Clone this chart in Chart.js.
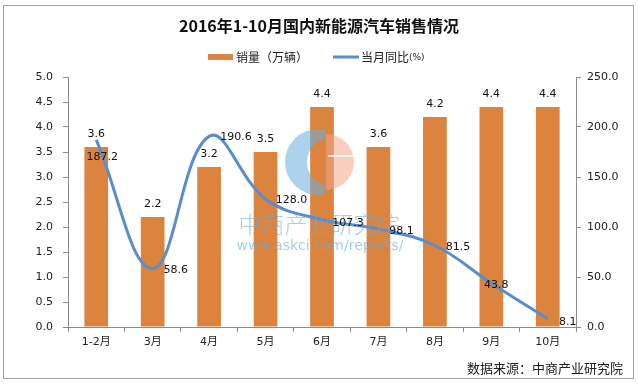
<!DOCTYPE html>
<html>
<head>
<meta charset="utf-8">
<script src="https://cdn.jsdelivr.net/npm/chart.js@4.4.1/dist/chart.umd.min.js"></script>
<style>
  html, body { margin: 0; padding: 0; background: #fff; }
  canvas { display: block; }
</style>
</head>
<body>
<canvas id="chart" width="638" height="384"></canvas>
<script>
// ── Datos ────────────────────────────────────────────────────────────────────
var categories  = ['1-2月', '3月', '4月', '5月', '6月', '7月', '8月', '9月', '10月'];
var salesValues = [3.6, 2.2, 3.2, 3.5, 4.4, 3.6, 4.2, 4.4, 4.4];           // 销量（万辆）
var yoyValues   = [187.2, 58.6, 190.6, 128.0, 107.3, 98.1, 81.5, 43.8, 8.1]; // 当月同比(%)
var leftTicks   = [0, 0.5, 1, 1.5, 2, 2.5, 3, 3.5, 4, 4.5, 5];
var rightTicks  = [0, 50, 100, 150, 200, 250];

var titleText  = '2016年1-10月国内新能源汽车销售情况';
var sourceText = '数据来源：中商产业研究院';

var barColor  = '#dc843e';
var lineColor = '#5b8dcb';
var axisColor = '#8c8c8c';
var numFont   = "'DejaVu Sans', 'Noto Sans CJK SC', sans-serif";
var cjkFont   = "'Noto Sans CJK SC', sans-serif";

// desplazamiento de etiquetas de la línea (relativo al punto)
var lineLabelDx = [6, 23, 27, 26, 26, 23, 23, 5, 20];
var lineLabelDy = [17, 2, 1, 1, 3, 2, 2, 2, 3];

// ── Plugin: fondo, leyenda, marca de agua, etiquetas, fuente ────────────────
var decoPlugin = {
    id: 'deco',
    beforeDraw: function (chart) {
        var ctx = chart.ctx;
        ctx.save();
        ctx.fillStyle = '#fff';
        ctx.fillRect(0, 0, chart.width, chart.height);
        ctx.restore();
    },
    afterDatasetsDraw: function (chart) {
        var ctx = chart.ctx;
        ctx.save();
        ctx.globalAlpha = 0.55;
        // logo: media luna azul
        ctx.save();
        ctx.beginPath();
        ctx.rect(270, 120, 55, 90);
        ctx.clip();
        ctx.fillStyle = '#6aaedc';
        ctx.beginPath();
        ctx.arc(318, 162, 33, 0, Math.PI * 2);
        ctx.arc(331, 162, 24, 0, Math.PI * 2, true);
        ctx.fill('evenodd');
        ctx.restore();
        // logo: semicírculo salmón
        ctx.fillStyle = '#f2a58a';
        ctx.beginPath();
        ctx.arc(326, 162, 28, -Math.PI / 2, Math.PI / 2);
        ctx.closePath();
        ctx.fill();
        ctx.globalAlpha = 0.8;
        ctx.fillStyle = '#fff';
        ctx.fillRect(328, 155, 27, 2);
        // texto
        ctx.globalAlpha = 1;
        ctx.textAlign = 'center';
        ctx.textBaseline = 'middle';
        ctx.fillStyle = 'rgba(110,170,215,0.6)';
        ctx.font = '300 23px ' + cjkFont;
        ctx.fillText('中商产业研究院', 319, 224);
        ctx.font = '14px ' + numFont;
        ctx.fillText('www.askci.com/reports/', 320, 246);
        ctx.restore();
    },
    afterDraw: function (chart) {
        var ctx = chart.ctx;
        ctx.save();

        // borde
        ctx.strokeStyle = '#a0a0a0';
        ctx.lineWidth = 1;
        ctx.strokeRect(3.5, 5.5, 630, 373);

        // leyenda
        ctx.fillStyle = barColor;
        ctx.fillRect(208, 54, 25, 6);
        ctx.strokeStyle = lineColor;
        ctx.lineWidth = 3;
        ctx.beginPath();
        ctx.moveTo(333, 57);
        ctx.lineTo(359, 57);
        ctx.stroke();
        ctx.fillStyle = '#222';
        ctx.textBaseline = 'middle';
        ctx.textAlign = 'left';
        ctx.font = '12px ' + cjkFont;
        ctx.fillText(chart.data.datasets[1].label, 236, 57);
        ctx.fillText('当月同比', 361, 57);
        var w = ctx.measureText('当月同比').width;
        ctx.font = '9px ' + numFont;
        ctx.fillText('(%)', 361 + w, 58);

        // etiquetas de barras
        ctx.font = '11px ' + numFont;
        ctx.fillStyle = '#111';
        ctx.textAlign = 'center';
        var barMeta = chart.getDatasetMeta(1);
        barMeta.data.forEach(function (bar, i) {
            ctx.fillText(salesValues[i].toFixed(1), bar.x, bar.y - 13);
        });

        // etiquetas de la línea
        var lineMeta = chart.getDatasetMeta(0);
        lineMeta.data.forEach(function (pt, i) {
            ctx.fillText(yoyValues[i].toFixed(1), pt.x + lineLabelDx[i], pt.y + lineLabelDy[i]);
        });

        // fuente
        ctx.textAlign = 'right';
        ctx.font = '13px ' + cjkFont;
        ctx.fillStyle = '#222';
        ctx.fillText(sourceText, 623, 368);
        ctx.restore();
    }
};

// ── Gráfica ──────────────────────────────────────────────────────────────────
var chart = new Chart(document.getElementById('chart'), {
    type: 'bar',
    data: {
        labels: categories,
        datasets: [{
            type: 'line',
            label: '当月同比(%)',
            data: yoyValues,
            yAxisID: 'y1',
            borderColor: lineColor,
            backgroundColor: lineColor,
            borderWidth: 3,
            pointRadius: 0,
            tension: 0.4,
            fill: false,
            order: 0
        }, {
            type: 'bar',
            label: '销量（万辆）',
            data: salesValues,
            yAxisID: 'y',
            backgroundColor: barColor,
            borderWidth: 0,
            barPercentage: 0.42,
            categoryPercentage: 1,
            order: 1
        }]
    },
    options: {
        responsive: false,
        animation: false,
        layout: { padding: 0 },
        plugins: {
            legend: { display: false },
            tooltip: { enabled: false },
            title: {
                display: true,
                text: titleText,
                color: '#111',
                font: { family: cjkFont, size: 16, weight: 'bold' },
                padding: { top: 16, bottom: 41.8 }
            }
        },
        scales: {
            x: {
                grid: { drawOnChartArea: false, drawTicks: true, tickLength: 5, color: axisColor },
                border: { color: axisColor },
                ticks: { font: { family: numFont, size: 11 }, color: '#222', padding: 4 },
                afterFit: function (s) { s.height = 57; }
            },
            y: {
                position: 'left',
                min: 0, max: 5,
                afterBuildTicks: function (s) { s.ticks = leftTicks.map(function (v) { return { value: v }; }); },
                ticks: {
                    font: { family: numFont, size: 11 }, color: '#222', padding: 10,
                    callback: function (v) { return Number(v).toFixed(1); }
                },
                grid: { drawOnChartArea: false, tickLength: 5, color: axisColor },
                border: { color: axisColor },
                afterFit: function (s) { s.width = 68; }
            },
            y1: {
                position: 'right',
                min: 0, max: 250,
                afterBuildTicks: function (s) { s.ticks = rightTicks.map(function (v) { return { value: v }; }); },
                ticks: {
                    font: { family: numFont, size: 11 }, color: '#222', padding: 6,
                    callback: function (v) { return Number(v).toFixed(1); }
                },
                grid: { drawOnChartArea: false, tickLength: 5, color: axisColor },
                border: { color: axisColor },
                afterFit: function (s) { s.width = 62; }
            }
        }
    },
    plugins: [decoPlugin]
});
</script>
</body>
</html>
